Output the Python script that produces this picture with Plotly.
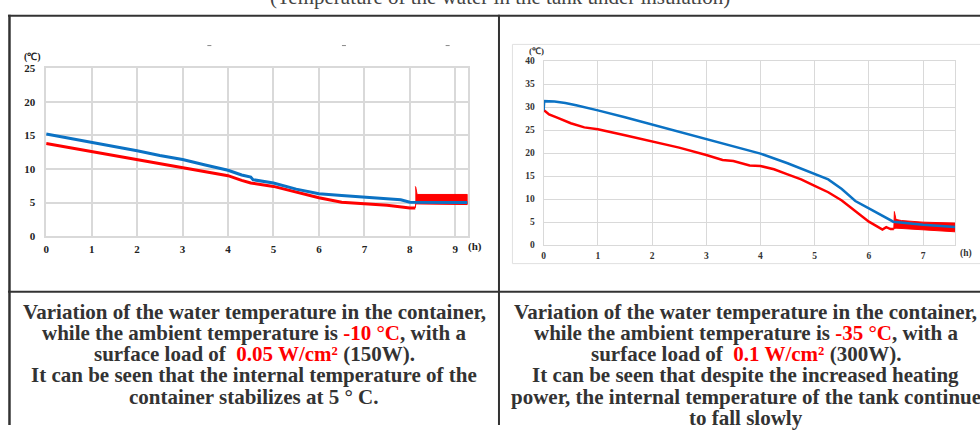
import plotly.graph_objects as go

W, H = 980, 431

# ---------------- data ----------------
# Left chart: ambient -10 °C, 150 W
left_blue_x = [0, 0.5, 1, 1.5, 2, 2.5, 3, 3.5, 4, 4.3, 4.5, 4.55, 5, 5.5, 6, 6.5, 7, 7.5, 7.8, 8, 8.5, 9, 9.27]
left_blue_y = [15.2, 14.6, 14.0, 13.3, 12.7, 12.0, 11.4, 10.6, 9.8, 9.1, 8.8, 8.4, 7.9, 7.0, 6.3, 6.05, 5.8, 5.55, 5.4, 5.05, 5.0, 5.0, 5.0]
left_red_x = [0, 0.5, 1, 1.5, 2, 2.5, 3, 3.5, 4, 4.3, 4.5, 5, 5.5, 6, 6.5, 7, 7.5, 8, 8.12]
left_red_y = [13.8, 13.2, 12.6, 12.0, 11.5, 10.9, 10.3, 9.7, 9.0, 8.3, 7.9, 7.4, 6.5, 5.7, 5.05, 4.85, 4.6, 4.2, 4.2]
left_band_x = [8.12, 8.13, 8.16, 8.3, 8.7, 9.27]
left_band_hi = [7.4, 7.3, 6.2, 6.2, 6.1, 6.2]
left_band_lo = [4.2, 4.8, 4.7, 4.7, 4.7, 4.7]

# Right chart: ambient -35 °C, 300 W
right_blue_x = [0, 0.01, 0.2, 0.4, 0.6, 0.8, 1, 1.5, 2, 2.5, 3, 3.5, 4, 4.5, 5, 5.25, 5.5, 5.75, 6, 6.25, 6.45, 7, 7.59]
right_blue_y = [29.3, 31.3, 31.2, 30.9, 30.4, 29.9, 29.3, 27.8, 26.2, 24.7, 23.1, 21.5, 19.9, 17.8, 15.5, 14.3, 12.2, 9.6, 8.0, 6.4, 5.1, 4.45, 3.95]
right_red_x = [0, 0.1, 0.25, 0.5, 0.75, 1, 1.5, 2, 2.5, 3, 3.3, 3.5, 3.8, 4, 4.25, 4.5, 4.75, 5, 5.25, 5.5, 5.75, 6, 6.15, 6.25, 6.32, 6.4, 6.46]
right_red_y = [29.4, 28.4, 27.7, 26.5, 25.6, 25.2, 23.9, 22.5, 21.2, 19.6, 18.5, 18.3, 17.3, 17.2, 16.5, 15.4, 14.3, 12.9, 11.5, 9.7, 7.3, 5.1, 4.1, 3.4, 3.9, 3.5, 3.5]
right_band_x = [6.46, 6.47, 6.5, 6.6, 7.0, 7.59]
right_band_hi = [3.5, 7.3, 5.6, 5.35, 5.0, 4.8]
right_band_lo = [3.4, 3.6, 3.7, 3.7, 3.3, 2.9]

left_xticks = list(range(0, 10))
left_yticks = [0, 5, 10, 15, 20, 25]
right_xticks = list(range(0, 8))
right_yticks = [0, 5, 10, 15, 20, 25, 30, 35, 40]

RED = "#ff0000"
BLUE = "#0b72c4"

caption_left = [
    "Variation of the water temperature in the container,",
    f"while the ambient temperature is <span style='color:{RED}'>-10 °C</span>, with a",
    f"surface load of&nbsp; <span style='color:{RED}'>0.05 W/cm²</span> (150W).",
    "It can be seen that the internal temperature of the",
    "container stabilizes at 5 ° C.",
]
caption_right = [
    "Variation of the water temperature in the container,",
    f"while the ambient temperature is <span style='color:{RED}'>-35 °C</span>, with a",
    f"surface load of&nbsp; <span style='color:{RED}'>0.1 W/cm²</span> (300W).",
    "It can be seen that despite the increased heating",
    "power, the internal temperature of the tank continue",
    "to fall slowly",
]
top_title = "(Temperature of the water in the tank under insulation)"


def px(x):
    return x / W


def py(y):
    return 1 - y / H


fig = go.Figure()

# left chart
fig.add_trace(go.Scatter(x=left_band_x + left_band_x[::-1], y=left_band_hi + left_band_lo[::-1],
                         fill="toself", fillcolor=RED, mode="lines",
                         line=dict(color=RED, width=1), xaxis="x", yaxis="y", hoverinfo="skip"))
fig.add_trace(go.Scatter(x=left_red_x, y=left_red_y, mode="lines",
                         line=dict(color=RED, width=3), xaxis="x", yaxis="y"))
fig.add_trace(go.Scatter(x=left_blue_x, y=left_blue_y, mode="lines",
                         line=dict(color=BLUE, width=3), xaxis="x", yaxis="y"))
# right chart
fig.add_trace(go.Scatter(x=right_band_x + right_band_x[::-1], y=right_band_hi + right_band_lo[::-1],
                         fill="toself", fillcolor=RED, mode="lines",
                         line=dict(color=RED, width=1), xaxis="x2", yaxis="y2", hoverinfo="skip"))
fig.add_trace(go.Scatter(x=right_red_x, y=right_red_y, mode="lines",
                         line=dict(color=RED, width=2.5), xaxis="x2", yaxis="y2"))
fig.add_trace(go.Scatter(x=right_blue_x, y=right_blue_y, mode="lines",
                         line=dict(color=BLUE, width=2.5), xaxis="x2", yaxis="y2"))

GRID = "#d9d9d9"
tf_left = dict(family="Liberation Serif", size=11, color="#222", weight="bold")
tf_right = dict(family="Liberation Serif", size=9.5, color="#333", weight="bold")

common = dict(showgrid=True, gridcolor=GRID, zeroline=False, showline=True, mirror=True,
              linecolor=GRID, fixedrange=True)

fig.update_layout(
    width=W, height=H,
    margin=dict(l=0, r=0, t=0, b=0),
    paper_bgcolor="white", plot_bgcolor="white",
    showlegend=False,
    xaxis=dict(domain=[px(43.3), px(466)], range=[0, 9.27], tickvals=left_xticks,
               anchor="y", gridwidth=1.5, linewidth=1.5, tickfont=tf_left,
               ticks="outside", ticklen=2, tickcolor="rgba(0,0,0,0)", **common),
    yaxis=dict(domain=[py(236.7), py(64)], range=[0, 25], tickvals=left_yticks,
               anchor="x", gridwidth=1.5, linewidth=1.5, tickfont=tf_left,
               ticks="outside", ticklen=7, tickcolor="rgba(0,0,0,0)", **common),
    xaxis2=dict(domain=[px(542.3), px(955)], range=[0, 7.59], tickvals=right_xticks,
                anchor="y2", gridwidth=1, linewidth=1, tickfont=tf_right,
                ticks="outside", ticklen=1, tickcolor="rgba(0,0,0,0)", **common),
    yaxis2=dict(domain=[py(246), py(56.7)], range=[0, 40], tickvals=right_yticks,
                anchor="x2", gridwidth=1, linewidth=1, tickfont=tf_right,
                ticks="outside", ticklen=6, tickcolor="rgba(0,0,0,0)", **common),
)

shapes = []
LINE = "#333333"
# table borders
shapes.append(dict(type="line", xref="paper", yref="paper", x0=px(5), x1=px(980), y0=py(10), y1=py(10),
                   line=dict(color=LINE, width=2)))
shapes.append(dict(type="line", xref="paper", yref="paper", x0=px(6.5), x1=px(6.5), y0=py(9), y1=py(431),
                   line=dict(color=LINE, width=2.5)))
shapes.append(dict(type="line", xref="paper", yref="paper", x0=px(497.5), x1=px(497.5), y0=py(9), y1=py(431),
                   line=dict(color=LINE, width=2)))
shapes.append(dict(type="line", xref="paper", yref="paper", x0=px(5), x1=px(980), y0=py(294), y1=py(294),
                   line=dict(color=LINE, width=2)))
# right chart frame
shapes.append(dict(type="rect", xref="paper", yref="paper", x0=px(511), x1=px(995), y0=py(265), y1=py(39.5),
                   line=dict(color="#e0e0e0", width=1)))
# small remnants at top of left chart
for xx in (207, 342, 446):
    shapes.append(dict(type="line", xref="paper", yref="paper", x0=px(xx - 2), x1=px(xx + 2),
                       y0=py(40.7), y1=py(40.7), line=dict(color="#888", width=1)))
fig.update_layout(shapes=shapes)

ann = []
cap_font = dict(family="Liberation Serif", size=21, color="#333", weight="bold")
baselines = [320, 341.7, 363.3, 385, 406.7, 428.3]
for i, t in enumerate(caption_left):
    ann.append(dict(text=t, x=px(252), y=py(baselines[i] - 5), xref="paper", yref="paper",
                    xanchor="center", yanchor="middle", showarrow=False, font=cap_font))
for i, t in enumerate(caption_right):
    ann.append(dict(text=t, x=px(745), y=py(baselines[i] - 5), xref="paper", yref="paper",
                    xanchor="center", yanchor="middle", showarrow=False, font=cap_font))
ann.append(dict(text=top_title, x=px(499), y=py(-9), xref="paper", yref="paper",
                xanchor="center", yanchor="middle", showarrow=False,
                font=dict(family="Liberation Serif", size=21, color="#444")))
# unit labels
ann.append(dict(text="(℃)", x=px(30), y=py(52), xref="paper", yref="paper", showarrow=False,
                xanchor="center", yanchor="middle",
                font=dict(family="Liberation Serif", size=10, color="#222", weight="bold")))
ann.append(dict(text="(h)", x=px(473), y=py(247.5), xref="paper", yref="paper", showarrow=False,
                xanchor="center", yanchor="middle",
                font=dict(family="Liberation Serif", size=11, color="#222", weight="bold")))
ann.append(dict(text="(℃)", x=px(535), y=py(46), xref="paper", yref="paper", showarrow=False,
                xanchor="center", yanchor="middle",
                font=dict(family="Liberation Serif", size=9, color="#333", weight="bold")))
ann.append(dict(text="(h)", x=px(966), y=py(255), xref="paper", yref="paper", showarrow=False,
                xanchor="center", yanchor="middle",
                font=dict(family="Liberation Serif", size=9.5, color="#333", weight="bold")))
fig.update_layout(annotations=ann)

fig.write_html(
    "out.html",
    config={"displayModeBar": False},
    post_script="document.body.style.margin='0';document.body.style.overflow='hidden';",
)
